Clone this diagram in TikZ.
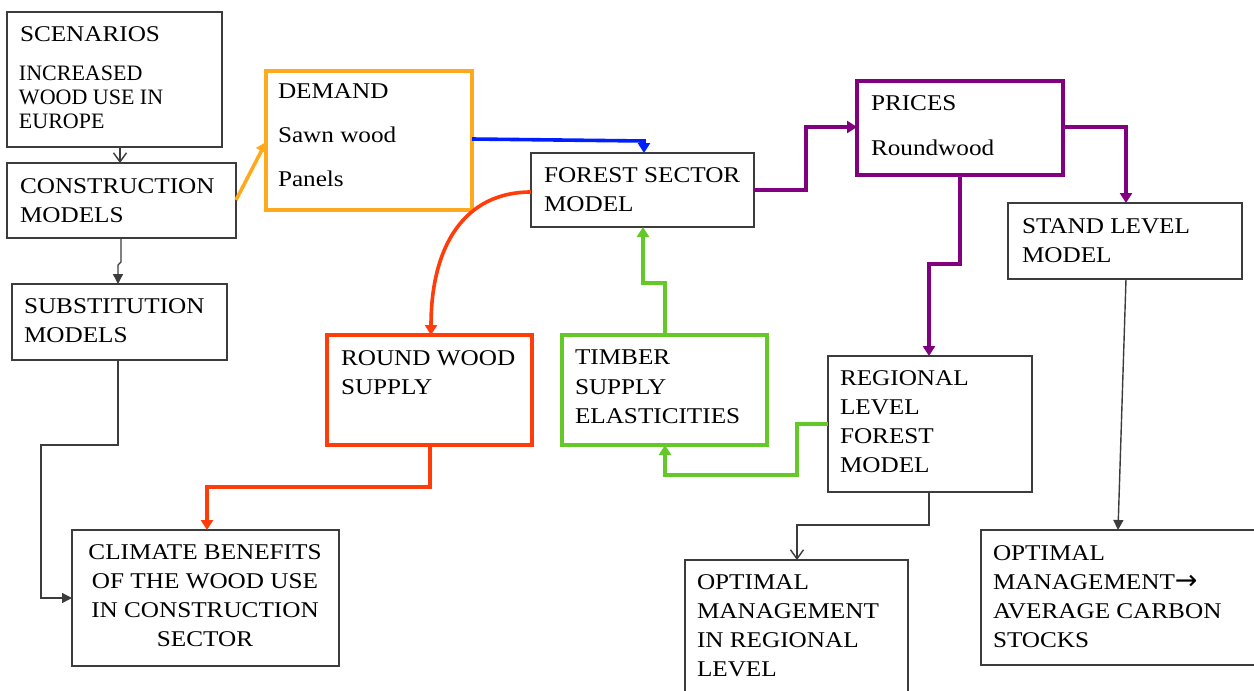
\documentclass[tikz,border=0pt]{standalone}
\usepackage{fontspec}
\setmainfont{Liberation Serif}[FakeStretch=1.12]
\newfontfamily\plainserif{Liberation Serif}
\newfontfamily\symfont{DejaVu Sans}
\usetikzlibrary{arrows.meta,calc}
\definecolor{boxgray}{RGB}{60,60,60}
\definecolor{corange}{RGB}{255,170,30}
\definecolor{cblue}{RGB}{0,30,255}
\definecolor{cred}{RGB}{255,60,10}
\definecolor{cpurple}{RGB}{128,0,128}
\definecolor{cgreen}{RGB}{100,200,40}
\newcommand\bx[6]{\node[#6, minimum width={(#4)-(#2)}, minimum height={(#5)-(#3)}] (#1) at (#2,#3) {};}
\begin{document}
\begin{tikzpicture}[x=1pt,y=-1pt,
  box/.style={draw=boxgray, line width=1.6pt, inner sep=0pt, outer sep=0pt, anchor=north west},
  obox/.style={box, draw=corange, line width=4pt},
  rbox/.style={box, draw=cred, line width=4pt},
  gbox/.style={box, draw=cgreen, line width=4pt},
  pbox/.style={box, draw=cpurple, line width=4pt},
  txt/.style={inner sep=0pt, outer sep=0pt, anchor=north west, align=left, font=\fontsize{22.5}{29.3}\selectfont},
  blk/.style={draw=boxgray, line width=1.4pt, -{Triangle[length=10pt,width=10pt]}},
  openarr/.style={draw=boxgray, line width=1.4pt, -{Straight Barb[length=9pt,width=13pt,line width=1.4pt]}},
  carr/.style={line width=3.6pt, -{Triangle[length=10pt,width=12pt]}},
]
\useasboundingbox (0,0) rectangle (1254,691);
\clip (0,0) rectangle (1254,691);
% boxes
\bx{scen}{7}{12}{222}{147}{box}
\bx{cons}{7}{163}{236}{238}{box}
\bx{dem}{266}{71}{472}{210}{obox}
\bx{fsm}{531}{153}{754}{227}{box}
\bx{pr}{857}{81}{1063}{175}{pbox}
\bx{st}{1008}{203}{1242}{279}{box}
\bx{sub}{12}{284}{227}{360}{box}
\bx{rws}{327}{335}{532}{445}{rbox}
\bx{tim}{562}{335}{767}{445}{gbox}
\bx{reg}{828}{356}{1032}{492}{box}
\bx{clim}{72}{530}{339}{666}{box}
\bx{optr}{685}{560}{908}{720}{box}
\bx{optc}{981}{530}{1275}{665}{box}
% texts
\node[txt] (scenT) at (20,26.1) {SCENARIOS};
\node[txt, font=\plainserif\fontsize{22}{23.6}\selectfont] (incT) at (19,66.4) {INCREASED\\WOOD USE IN\\EUROPE};
\node[txt] (consT) at (20,178.1) {CONSTRUCTION\\MODELS};
\node[txt, font=\fontsize{22.5}{43.7}\selectfont] (demT) at (278,84.1) {DEMAND\\Sawn wood\\Panels};
\node[txt] (fsmT) at (544,167.1) {FOREST SECTOR\\MODEL};
\node[txt, font=\fontsize{22.5}{45}\selectfont] (prT) at (871,95.1) {PRICES\\Roundwood};
\node[txt] (stT) at (1022,218.1) {STAND LEVEL\\MODEL};
\node[txt] (subT) at (24,298.1) {SUBSTITUTION\\MODELS};
\node[txt] (rwT) at (341,350.1) {ROUND WOOD\\SUPPLY};
\node[txt] (tiT) at (575,350.1) {TIMBER\\SUPPLY\\ELASTICITIES};
\node[txt] (regT) at (840,370.1) {REGIONAL\\LEVEL\\FOREST\\MODEL};
\node[txt, anchor=north, align=center] (clT) at (205,544.1) {CLIMATE BENEFITS\\OF THE WOOD USE\\IN CONSTRUCTION\\SECTOR};
\node[txt] (orT) at (697,574.1) {OPTIMAL\\MANAGEMENT\\IN REGIONAL\\LEVEL};
\node[txt] (ocT) at (993,545.1) {OPTIMAL\\MANAGEMENT{\symfont\fontsize{27}{29}\selectfont →}\\AVERAGE CARBON\\STOCKS};
% black connectors
\draw[openarr] (120,0 |- scen.south) -- (120,0 |- cons.north);
\draw[blk] (121,0 |- cons.south) -- (121,262) -- (118,265) -- (118,0 |- sub.north);
\draw[blk] (118,0 |- sub.south) -- (118,445) -- (41,445) -- (41,598) -- (clim.west |- 0,598);
\draw[openarr] (929,0 |- reg.south) -- (929,525) -- (797,525) -- (797,0 |- optr.north);
\draw[blk] (1126,0 |- st.south) -- (1118,0 |- optc.north);
% coloured connectors
\draw[carr, corange] (cons.east |- 0,200) -- (dem.west |- 0,142);
\draw[carr, cblue] (dem.east |- 0,139) -- (644,141) -- (644,0 |- fsm.north);
\draw[carr, cpurple] (fsm.east |- 0,190) -- (806,190) -- (806,127) -- (pr.west |- 0,127);
\draw[carr, cpurple] (pr.east |- 0,127) -- (1126,127) -- (1126,0 |- st.north);
\draw[carr, cpurple] (960,0 |- pr.south) -- (960,264) -- (929,264) -- (929,0 |- reg.north);
\draw[carr, cred] (fsm.west |- 0,192) .. controls (465,192) and (431,245) .. (431,0 |- rws.north);
\draw[carr, cred] (430,0 |- rws.south) -- (430,487) -- (207,487) -- (207,0 |- clim.north);
\draw[carr, cgreen] (665,0 |- tim.north) -- (665,283) -- (643,283) -- (643,0 |- fsm.south);
\draw[carr, cgreen] (reg.west |- 0,424) -- (797,424) -- (797,475) -- (665,475) -- (665,0 |- tim.south);
\end{tikzpicture}
\end{document}
